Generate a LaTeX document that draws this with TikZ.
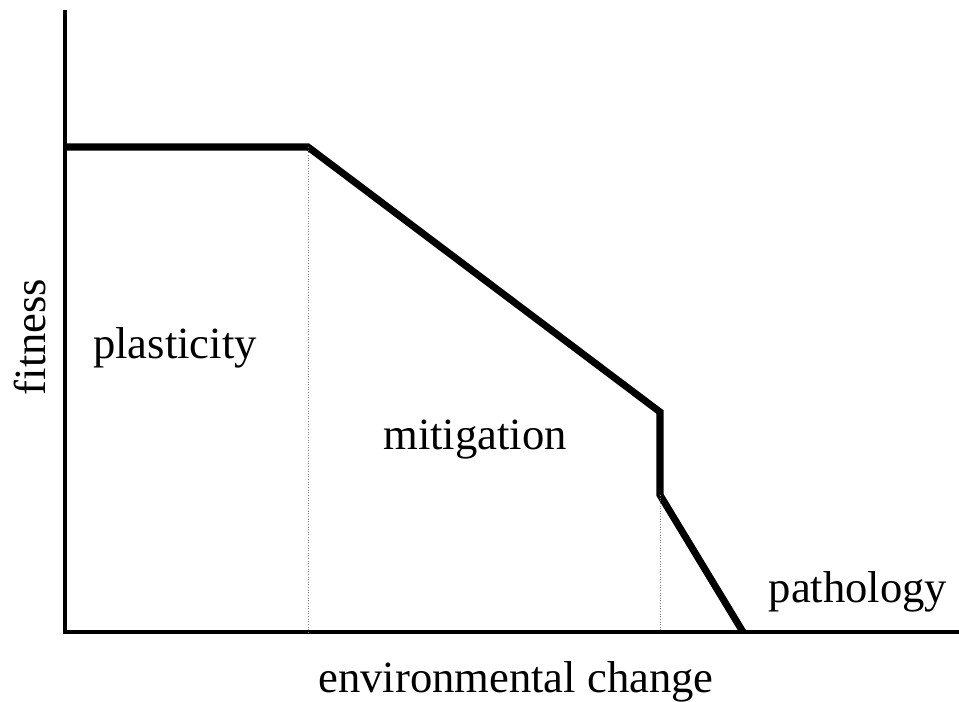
\documentclass[tikz,border=0pt]{standalone}
\usepackage{fontspec}
\setmainfont{Liberation Serif}
\usepackage{tikz}
\usetikzlibrary{calc}

\tikzset{
  axis/.style={line width=2.8pt},
  fitcurve/.style={line width=4pt, line join=miter},
  guide/.style={gray, densely dotted, line width=0.5pt},
  lbl/.style={font=\fontsize{25.4}{30}\selectfont, inner sep=0pt}
}

\begin{document}
\begin{tikzpicture}[x=0.02cm, y=-0.02cm]
      \path[use as bounding box] (0,0) rectangle (959,702); % adjust to fit
      % axes
      \coordinate (o) at (65,632);
      \coordinate (ytop) at (65,10);
      \coordinate (xend) at (959,632);
      \draw [axis] (ytop) -- (o) -- (xend);

      % fitness curve
      \coordinate (p1) at (65,147);
      \coordinate (p2) at (308,147);
      \coordinate (p3) at (660,412);
      \coordinate (p4) at (660,495);
      \coordinate (p5) at (743,632);
      \draw [fitcurve] (p1) -- (p2) -- (p3) -- (p4) -- (p5);

      % region borders
      \draw [guide] (p2) -- (p2 |- o);
      \draw [guide] (p4) -- (p4 |- o);

      \node [lbl] (plast) at (175,348) {plasticity};
      \node [lbl] (mitig) at (475,440) {mitigation};
      \node [lbl] (patho) at (858,592) {pathology};
      \node [lbl, rotate=90] (fit) at (30,337) {fitness};
      \node [lbl] (env) at (516,682) {environmental change};
    \end{tikzpicture}
\end{document}
